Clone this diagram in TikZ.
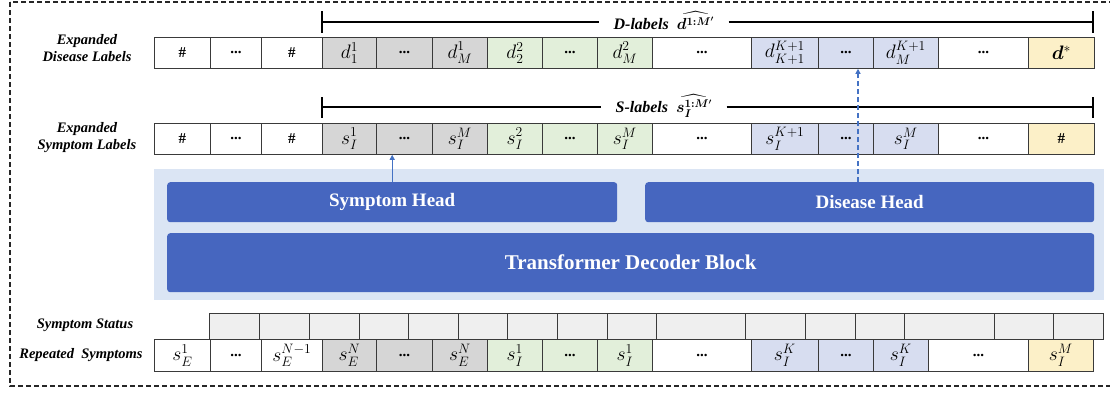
\documentclass[tikz,border=0pt]{standalone}
\usepackage{fix-cm}
\usepackage{fontspec}
\setmainfont{Liberation Serif}
\usepackage{amsmath,bm}
\usetikzlibrary{arrows.meta,calc}
\definecolor{cellline}{HTML}{3A3A3A}
\definecolor{cgray}{HTML}{D6D6D6}
\definecolor{cgreen}{HTML}{E2EFDA}
\definecolor{cblue}{HTML}{D7DDF0}
\definecolor{cyellow}{HTML}{FCF0C8}
\definecolor{cstat}{HTML}{EFEFEF}
\definecolor{headblue}{HTML}{4666BF}
\definecolor{bgblue}{HTML}{DBE5F4}
\definecolor{arrowblue}{HTML}{4472C4}
\newcommand{\mydots}{\textbf{...}}
\newcommand{\myhash}{\textbf{\#}}
\newcommand{\mm}[1]{{\fontsize{19.5}{22}\selectfont$#1$}}
\begin{document}
\begin{tikzpicture}[x=1pt,y=-1pt,
  cell/.style={draw=cellline,line width=0.8pt,anchor=north west,inner sep=0pt,font=\fontsize{15}{17}\selectfont},
  rowlab/.style={font=\fontsize{14.5}{17}\selectfont\bfseries\itshape,align=center,inner sep=0pt},
  head/.style={fill=headblue,rounded corners=3pt,text=white,font=\fontsize{19}{22}\selectfont\bfseries,inner sep=0pt,anchor=north west},
  bracket/.style={line width=1.1pt},
  brlabel/.style={font=\fontsize{16}{18}\selectfont\bfseries\itshape,inner xsep=14pt,inner ysep=0pt},
  flow/.style={draw=arrowblue,line width=1.2pt,-{Triangle[length=5pt,width=5pt]}}
]
\useasboundingbox (0,0) rectangle (1110,392);
\draw[draw=black!85,line width=1.1pt,dash pattern=on 5pt off 3pt] (10,2) rectangle (1130,386);

% panel and heads
\node[fill=bgblue,anchor=north west,minimum width=950pt,minimum height=131pt,inner sep=0pt] (panel) at (154,169) {};
\node[head,minimum width=450pt,minimum height=40pt] (shead) at (167,182) {Symptom Head};
\node[head,minimum width=449pt,minimum height=40pt] (dhead) at (645,182) {Disease Head};
\node[head,minimum width=927pt,minimum height=59pt,font=\fontsize{21}{24}\selectfont\bfseries] (tdb) at (167,233) {Transformer Decoder Block};

% row labels
\node[rowlab] (ldis) at (87,48) {Expanded\\Disease Labels};
\node[rowlab] (lsym) at (87,138) {Expanded\\Symptom Labels};
\node[rowlab] (lstat) at (85,325) {Symptom Status};
\node[rowlab] (lrep) at (81,355) {Repeated\ \ Symptoms};

% disease labels row
\foreach \a/\b/\t/\c [count=\i] in {
  154/210/\myhash/white, 210/261/\mydots/white, 261/322/\myhash/white,
  322/376/{\mm{d_1^1}}/cgray, 376/432/\mydots/cgray, 432/487/{\mm{d_M^1}}/cgray,
  487/542/{\mm{d_2^2}}/cgreen, 542/597/\mydots/cgreen, 597/652/{\mm{d_M^2}}/cgreen,
  652/751/\mydots/white,
  751/818/{\mm{d_{K+1}^{K+1}}}/cblue, 818/873/\mydots/cblue, 873/938/{\mm{d_M^{K+1}}}/cblue,
  938/1028/\mydots/white, 1028/1094/{\mm{\bm{d}^{*}}}/cyellow}
  \node[cell,fill=\c,minimum width={(\b-\a)*1pt},minimum height=31pt] (D\i) at (\a,37) {\t};

% symptom labels row
\foreach \a/\b/\t/\c [count=\i] in {
  154/210/\myhash/white, 210/261/\mydots/white, 261/322/\myhash/white,
  322/376/{\mm{s_I^1}}/cgray, 376/432/\mydots/cgray, 432/487/{\mm{s_I^M}}/cgray,
  487/542/{\mm{s_I^2}}/cgreen, 542/597/\mydots/cgreen, 597/652/{\mm{s_I^M}}/cgreen,
  652/751/\mydots/white,
  751/818/{\mm{s_I^{K+1}}}/cblue, 818/873/\mydots/cblue, 873/938/{\mm{s_I^M}}/cblue,
  938/1028/\mydots/white, 1028/1094/\myhash/cyellow}
  \node[cell,fill=\c,minimum width={(\b-\a)*1pt},minimum height=31pt] (S\i) at (\a,123) {\t};

% symptom status row
\foreach \a/\b [count=\i] in {209/259,259/309,309/359,359/408,408/458,458/507,507/557,557/607,607/656,656/745,745/805,805/855,855/904,904/994,994/1053,1053/1103}
  \node[cell,fill=cstat,minimum width={(\b-\a)*1pt},minimum height=26pt] (T\i) at (\a,313) {};

% repeated symptoms row
\foreach \a/\b/\t/\c [count=\i] in {
  154/210/{\mm{s_E^1}}/white, 210/261/\mydots/white, 261/322/{\mm{s_E^{N-1}}}/white,
  322/376/{\mm{s_E^N}}/cgray, 376/432/\mydots/cgray, 432/487/{\mm{s_E^N}}/cgray,
  487/542/{\mm{s_I^1}}/cgreen, 542/597/\mydots/cgreen, 597/652/{\mm{s_I^1}}/cgreen,
  652/751/\mydots/white,
  751/818/{\mm{s_I^K}}/cblue, 818/873/\mydots/cblue, 873/928/{\mm{s_I^K}}/cblue,
  928/1028/\mydots/white, 1028/1093/{\mm{s_I^M}}/cyellow}
  \node[cell,fill=\c,minimum width={(\b-\a)*1pt},minimum height=32pt] (R\i) at (\a,339) {\t};

% brackets
\node[brlabel] (dlab) at (664,21) {D-labels\ \ $\widehat{\bm{d}^{\bm{1:M'}}}$};
\draw[bracket] (322,11) -- (322,33);
\draw[bracket] (1093,11) -- (1093,33);
\draw[bracket] (322,22) -- (dlab.west |- 0,22);
\draw[bracket] (dlab.east |- 0,22) -- (1093,22);

\node[brlabel] (slab) at (664,106) {S-labels\ \ $\widehat{\bm{s}_{\bm{I}}^{\bm{1:M'}}}$};
\draw[bracket] (322,97) -- (322,118);
\draw[bracket] (1093,97) -- (1093,118);
\draw[bracket] (322,107) -- (slab.west |- 0,107);
\draw[bracket] (slab.east |- 0,107) -- (1093,107);

% arrows
\draw[flow] (shead.north) -- (shead.north |- S5.south);
\coordinate (dx) at (858,0);
\draw[flow,dash pattern=on 5pt off 3pt] (dhead.north -| dx) -- (dx |- D12.south);
\end{tikzpicture}
\end{document}
